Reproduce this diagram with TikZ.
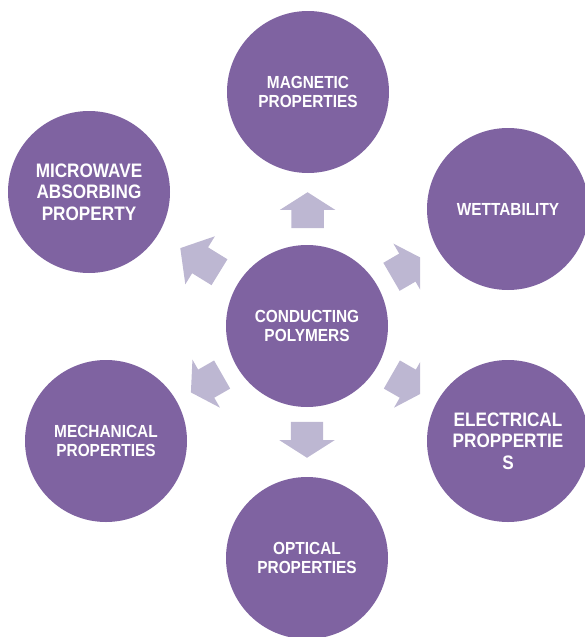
\documentclass[tikz,border=0pt]{standalone}
\usepackage{fontspec}
\setmainfont{Liberation Sans}[FakeStretch=0.88]
\usepackage{xcolor}
\usetikzlibrary{shapes.arrows, calc}
\definecolor{propPurple}{RGB}{127,99,161}
\definecolor{arrowLilac}{RGB}{189,183,210}

\begin{document}
\begin{tikzpicture}[x=1pt,y=-1pt,
        prop/.style={circle,fill=propPurple,minimum size=162pt,inner sep=0pt,text=white,align=center,
            font=\bfseries\fontsize{17.5}{18.5}\selectfont},
        bigprop/.style={prop,font=\bfseries\fontsize{19.5}{21.5}\selectfont},
        blockarrow/.style={single arrow,fill=arrowLilac,minimum height=36pt,inner xsep=0pt,inner ysep=16pt,
            single arrow head extend=11.5pt,single arrow tip angle=115,anchor=tip},
        longarrow/.style={blockarrow,minimum height=46pt,inner ysep=15pt,
            single arrow head extend=13pt,single arrow tip angle=101}]

        \clip (0,0) rectangle (585,637);

        \node[prop] (cp) at (307,326) {CONDUCTING\\POLYMERS};
        \node[prop] (mag) at (308,92) {MAGNETIC\\PROPERTIES};
        \node[prop] (wet) at (508,209) {WETTABILITY};
        \node[bigprop] (elec) at (508,441) {ELECTRICAL\\PROPPERTIE\\S};
        \node[prop] (opt) at (307,558) {OPTICAL\\PROPERTIES};
        \node[prop] (mech) at (106,441) {MECHANICAL\\PROPERTIES};
        \node[bigprop] (micro) at (89,192) {MICROWAVE\\ABSORBING\\PROPERTY};

        % arrows, cut off on the right side
        \begin{scope}
            \clip (0,0) rectangle (420,637);
            \node[blockarrow,rotate=90] (toMag) at ($(cp)!134pt!(mag)$) {};
            \node[blockarrow,rotate=30.2] (toWet) at ($(cp)!134pt!(wet)$) {};
            \node[blockarrow,rotate=-29.8] (toElec) at ($(cp)!134pt!(elec)$) {};
            \node[blockarrow,rotate=-90] (toOpt) at ($(cp)!132pt!(opt)$) {};
            \node[blockarrow,rotate=209.8] (toMech) at ($(cp)!134pt!(mech)$) {};
            \node[longarrow,rotate=148.4] (toMicro) at ($(cp)!149pt!(micro)$) {};
        \end{scope}
    \end{tikzpicture}
\end{document}
